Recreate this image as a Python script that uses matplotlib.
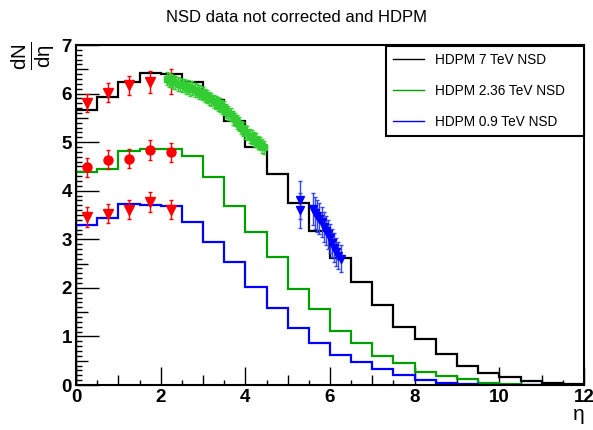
import numpy as np
import matplotlib
matplotlib.use('Agg')
from matplotlib import pyplot as plt
from matplotlib.ticker import MultipleLocator

plt.rcParams['font.family'] = ['Liberation Sans', 'DejaVu Sans']
plt.rcParams['mathtext.fontset'] = 'custom'
plt.rcParams['mathtext.rm'] = 'Liberation Sans'
plt.rcParams['mathtext.it'] = 'Liberation Sans:italic'

# HDPM histograms, bins of 0.5 in eta from 0 to 12
edges = np.arange(0, 12.5, 0.5)
hdpm_7 = [5.66, 5.93, 6.24, 6.42, 6.41, 6.24, 5.86, 5.43, 4.89, 4.34, 3.74, 3.17,
          2.61, 2.13, 1.65, 1.20, 0.94, 0.64, 0.39, 0.25, 0.16, 0.09, 0.05, 0.03]
hdpm_236 = [4.38, 4.44, 4.82, 4.85, 4.85, 4.71, 4.29, 3.68, 3.14, 2.63, 1.98, 1.56,
            1.12, 0.87, 0.60, 0.46, 0.27, 0.19, 0.12, 0.05, 0.02, 0.01, 0.0, 0.0]
hdpm_09 = [3.29, 3.43, 3.72, 3.70, 3.68, 3.36, 2.95, 2.54, 2.02, 1.58, 1.17, 0.86,
           0.62, 0.48, 0.32, 0.21, 0.10, 0.05, 0.02, 0.01, 0.0, 0.0, 0.0, 0.0]

# red data points (central region)
red_eta = [0.25, 0.75, 1.25, 1.75, 2.25]
red_7 = [5.81, 6.02, 6.17, 6.24, 6.25]
red_7_err = [0.19, 0.20, 0.20, 0.23, 0.25]
red_236 = [4.48, 4.64, 4.66, 4.84, 4.79]
red_236_err = [0.20, 0.20, 0.20, 0.20, 0.20]
red_09 = [3.46, 3.53, 3.61, 3.77, 3.61]
red_09_err = [0.20, 0.20, 0.20, 0.20, 0.20]

# green data points (forward region)
green_eta = [2.15, 2.20, 2.25, 2.30, 2.35, 2.40, 2.45, 2.50, 2.55, 2.60, 2.65, 2.70,
             2.75, 2.80, 2.85, 2.90, 2.95, 3.00, 3.05, 3.10, 3.15, 3.20, 3.25, 3.30,
             3.35, 3.40, 3.45, 3.50, 3.55, 3.60, 3.65, 3.70, 3.75, 3.80, 3.85, 3.90,
             3.95, 4.00, 4.05, 4.10, 4.15, 4.20, 4.25, 4.30, 4.35, 4.40, 4.45]
green_val = [6.31, 6.28, 6.27, 6.24, 6.23, 6.20, 6.19, 6.17, 6.17, 6.13, 6.13, 6.10,
             6.11, 6.07, 6.06, 6.03, 6.02, 6.00, 5.96, 5.94, 5.90, 5.88, 5.84, 5.82,
             5.78, 5.76, 5.72, 5.70, 5.64, 5.60, 5.57, 5.50, 5.47, 5.41, 5.38, 5.30,
             5.27, 5.21, 5.19, 5.13, 5.11, 5.06, 5.04, 4.99, 4.97, 4.92, 4.89]
green_err = 0.14

# blue data points (very forward region)
blue_eta = [5.30, 5.30, 5.60, 5.65, 5.70, 5.75, 5.80, 5.85, 5.90, 5.95, 6.00, 6.05,
            6.10, 6.15, 6.20, 6.25]
blue_val = [3.81, 3.60, 3.62, 3.55, 3.48, 3.42, 3.35, 3.26, 3.18, 3.10, 3.02, 2.92,
            2.83, 2.74, 2.66, 2.60]
blue_err = [0.40, 0.36, 0.33, 0.33, 0.32, 0.32, 0.31, 0.31, 0.30, 0.30, 0.30, 0.29,
            0.29, 0.28, 0.28, 0.28]

fig = plt.figure(figsize=(5.93, 4.30), dpi=100, facecolor='#ffffff')
ax = fig.add_axes([76/593., 1-385/430., 508/593., 340/430.])

ax.stairs(hdpm_7, edges, color='black', lw=1.6, label='HDPM 7 TeV NSD', zorder=4)
ax.stairs(hdpm_236, edges, color='#00a000', lw=1.6, label='HDPM 2.36 TeV NSD', zorder=2)
ax.stairs(hdpm_09, edges, color='#0000ff', lw=1.6, label='HDPM 0.9 TeV NSD', zorder=2)

ax.errorbar(red_eta, red_7, yerr=red_7_err, fmt='v', color='#ff0000', ms=6.5,
            elinewidth=1, capsize=1.5, zorder=5)
ax.errorbar(red_eta, red_236, yerr=red_236_err, fmt='o', color='#ff0000', ms=6.5,
            elinewidth=1, capsize=1.5, zorder=5)
ax.errorbar(red_eta, red_09, yerr=red_09_err, fmt='v', color='#ff0000', ms=6.5,
            elinewidth=1, capsize=1.5, zorder=5)
ax.errorbar(green_eta, green_val, yerr=green_err, fmt='s', color='#33cc33', ms=4.5,
            elinewidth=1, capsize=1.5, zorder=6)
ax.errorbar(blue_eta, blue_val, yerr=blue_err, fmt='v', color='#0000ff', ms=5.5,
            elinewidth=1, ecolor='#3344ff', capsize=1.5, zorder=6)

ax.set_xlim(0, 12)
ax.set_ylim(0, 7)
for s in ax.spines.values():
    s.set_linewidth(1.5)

ax.xaxis.set_major_locator(MultipleLocator(2))
ax.xaxis.set_minor_locator(MultipleLocator(0.5))
ax.yaxis.set_major_locator(MultipleLocator(1))
ax.yaxis.set_minor_locator(MultipleLocator(0.1))
ax.tick_params(which='both', direction='in', top=False, right=False, width=1)
ax.tick_params(axis='x', which='major', length=13, pad=3)
ax.tick_params(axis='x', which='minor', length=3.5)
ax.tick_params(axis='y', which='major', length=16.5, pad=3)
ax.tick_params(axis='y', which='minor', length=4.3)
for lab in ax.get_xticklabels() + ax.get_yticklabels():
    lab.set_fontsize(13.5)
    lab.set_fontweight('bold')

# longer intermediate ticks (ROOT style)
xlocs = ax.xaxis.get_minorticklocs()
for loc, t in zip(xlocs, ax.xaxis.get_minor_ticks(len(xlocs))):
    if abs(loc - round(loc)) < 1e-6:
        t.tick1line.set_markersize(7)
ylocs = ax.yaxis.get_minorticklocs()
for loc, t in zip(ylocs, ax.yaxis.get_minor_ticks(len(ylocs))):
    if abs(loc * 2 - round(loc * 2)) < 1e-6:
        t.tick1line.set_markersize(8.5)

leg = ax.legend(loc='upper left', bbox_to_anchor=(0.61, 0.741, 0.39, 0.256),
                mode='expand', fontsize=9.8,
                frameon=True, fancybox=False, edgecolor='black', framealpha=1,
                borderpad=0.5, labelspacing=1.25, handlelength=2.3, handletextpad=0.8,
                borderaxespad=0)
leg.get_frame().set_linewidth(1.5)
for h in leg.get_lines():
    h.set_linewidth(1)

fig.text(0.5, 1-17/430., 'NSD data not corrected and HDPM', ha='center', va='center',
         fontsize=12)
fig.text(33/593., 1-56/430., r'$\frac{\mathrm{dN}}{\mathrm{dη}}$', ha='center',
         va='center', rotation=90, fontsize=21)
fig.text(579/593., 1-414/430., 'η', ha='center', va='center', fontsize=15)

fig.savefig('out.png', dpi=100)
